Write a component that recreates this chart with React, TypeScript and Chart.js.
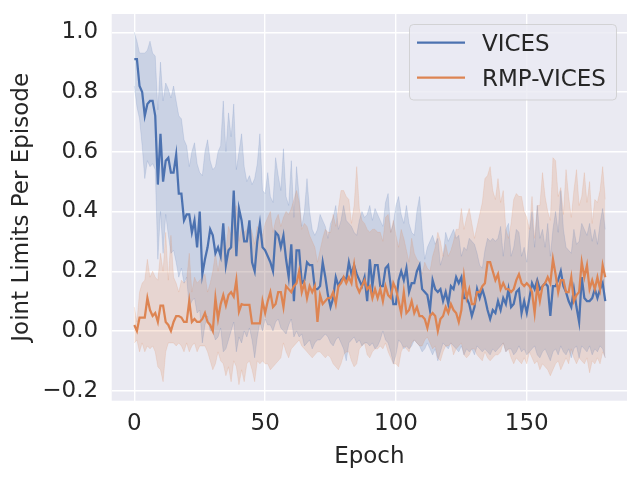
import React, { useEffect, useRef } from "react";
import { Chart, registerables } from "chart.js";

Chart.register(...registerables);

const epochs: number[] = Array.from({ length: 181 }, (_, i) => i);

const vicesMean: number[] = [
  0.91, 0.91, 0.82, 0.80, 0.72, 0.76, 0.77, 0.77, 0.72, 0.49,
  0.66, 0.50, 0.57, 0.58, 0.53, 0.53, 0.59, 0.46, 0.46, 0.37,
  0.39, 0.39, 0.33, 0.37, 0.28, 0.40, 0.19, 0.24, 0.28, 0.34,
  0.32, 0.26, 0.28, 0.25, 0.36, 0.22, 0.27, 0.28, 0.47, 0.25,
  0.41, 0.37, 0.30, 0.30, 0.37, 0.23, 0.20, 0.30, 0.36, 0.28,
  0.27, 0.25, 0.23, 0.20, 0.33, 0.32, 0.28, 0.32, 0.24, 0.18,
  0.29, 0.10, 0.27, 0.27, 0.16, 0.17, 0.23, 0.22, 0.22, 0.14,
  0.14, 0.15, 0.23, 0.18, 0.12, 0.08, 0.11, 0.18, 0.15, 0.17,
  0.18, 0.17, 0.23, 0.19, 0.22, 0.19, 0.17, 0.15, 0.18, 0.10,
  0.24, 0.15, 0.22, 0.22, 0.15, 0.15, 0.21, 0.22, 0.15, 0.09,
  0.09, 0.17, 0.20, 0.17, 0.21, 0.13, 0.16, 0.16, 0.20, 0.22,
  0.14, 0.13, 0.12, 0.07, 0.17, 0.14, 0.13, 0.14, 0.10, 0.13,
  0.09, 0.15, 0.14, 0.18, 0.16, 0.18, 0.11, 0.11, 0.09, 0.05,
  0.08, 0.14, 0.11, 0.14, 0.11, 0.07, 0.04, 0.07, 0.06, 0.10,
  0.07, 0.11, 0.09, 0.14, 0.08, 0.09, 0.13, 0.14, 0.06, 0.10,
  0.06, 0.11, 0.16, 0.14, 0.17, 0.14, 0.15, 0.16, 0.15, 0.05,
  0.15, 0.15, 0.17, 0.20, 0.15, 0.13, 0.10, 0.08, 0.14, 0.08,
  0.03, 0.18, 0.11, 0.10, 0.10, 0.11, 0.14, 0.11, 0.14, 0.16, 0.10,
];

const vicesUpper: number[] = [
  1.00, 0.97, 0.93, 0.93, 0.93, 0.94, 0.97, 0.93, 0.92, 0.74,
  0.90, 0.77, 0.83, 0.81, 0.78, 0.82, 0.77, 0.72, 0.71, 0.64,
  0.62, 0.55, 0.60, 0.63, 0.56, 0.53, 0.52, 0.60, 0.64, 0.57,
  0.54, 0.55, 0.60, 0.62, 0.77, 0.60, 0.73, 0.65, 0.76, 0.54,
  0.60, 0.66, 0.55, 0.50, 0.52, 0.49, 0.51, 0.56, 0.66, 0.47,
  0.46, 0.53, 0.45, 0.43, 0.58, 0.52, 0.47, 0.61, 0.45, 0.42,
  0.57, 0.38, 0.55, 0.45, 0.35, 0.40, 0.51, 0.40, 0.34, 0.32,
  0.34, 0.39, 0.37, 0.35, 0.31, 0.36, 0.38, 0.42, 0.34, 0.37,
  0.42, 0.37, 0.36, 0.35, 0.33, 0.32, 0.37, 0.40, 0.38, 0.39,
  0.42, 0.37, 0.41, 0.39, 0.37, 0.35, 0.43, 0.46, 0.33, 0.36,
  0.42, 0.45, 0.39, 0.36, 0.42, 0.36, 0.33, 0.32, 0.40, 0.45,
  0.34, 0.24, 0.28, 0.30, 0.32, 0.29, 0.31, 0.22, 0.25, 0.33,
  0.30, 0.32, 0.34, 0.31, 0.32, 0.25, 0.28, 0.27, 0.31, 0.30,
  0.29, 0.26, 0.22, 0.21, 0.27, 0.31, 0.30, 0.31, 0.30, 0.31,
  0.35, 0.25, 0.34, 0.36, 0.25, 0.28, 0.34, 0.33, 0.25, 0.28,
  0.23, 0.33, 0.40, 0.28, 0.42, 0.31, 0.34, 0.28, 0.36, 0.25,
  0.34, 0.40, 0.33, 0.47, 0.34, 0.28, 0.27, 0.26, 0.34, 0.29,
  0.30, 0.36, 0.34, 0.32, 0.36, 0.30, 0.34, 0.29, 0.36, 0.41, 0.34,
];

const vicesLower: number[] = [
  0.82, 0.75, 0.71, 0.62, 0.51, 0.57, 0.55, 0.56, 0.54, 0.24,
  0.40, 0.26, 0.39, 0.32, 0.26, 0.27, 0.23, 0.18, 0.21, 0.16,
  0.18, 0.08, 0.10, 0.11, 0.06, 0.07, -0.04, 0.02, 0.05, 0.00,
  0.00, -0.03, -0.02, 0.01, -0.07, -0.06, -0.03, 0.00, 0.03, -0.07,
  -0.02, -0.04, 0.00, -0.02, 0.01, -0.03, -0.09, -0.02, 0.03, 0.00,
  0.04, 0.02, 0.02, 0.00, 0.03, 0.04, 0.01, 0.00, -0.01, 0.02,
  0.04, -0.02, 0.00, -0.02, -0.01, -0.05, -0.04, -0.03, -0.06, -0.04,
  -0.03, -0.03, -0.02, -0.01, -0.02, -0.04, -0.05, -0.03, -0.02, -0.04,
  -0.06, -0.10, -0.04, -0.03, -0.02, -0.04, -0.03, -0.05, -0.04, -0.04,
  -0.05, -0.04, -0.06, -0.05, -0.03, 0.00, -0.03, -0.04, -0.07, -0.11,
  -0.08, -0.03, -0.04, -0.06, -0.05, -0.06, -0.05, -0.03, -0.04, -0.05,
  -0.07, -0.06, -0.04, -0.06, -0.08, -0.06, -0.10, -0.07, -0.04, -0.05,
  -0.06, -0.04, -0.05, -0.06, -0.07, -0.05, -0.08, -0.06, -0.07, -0.06,
  -0.08, -0.05, -0.06, -0.07, -0.06, -0.07, -0.08, -0.06, -0.07, -0.06,
  -0.05, -0.04, -0.07, -0.06, -0.06, -0.08, -0.07, -0.05, -0.07, -0.06,
  -0.08, -0.07, -0.06, -0.05, -0.08, -0.09, -0.07, -0.06, -0.08, -0.10,
  -0.07, -0.06, -0.08, -0.05, -0.07, -0.08, -0.06, -0.09, -0.06, -0.05,
  -0.09, -0.05, -0.06, -0.07, -0.05, -0.08, -0.06, -0.07, -0.05, -0.06, -0.09,
];

const rmpMean: number[] = [
  0.02, 0.00, 0.045, 0.045, 0.045, 0.11, 0.07, 0.05, 0.06, 0.03,
  0.085, 0.085, 0.03, 0.02, 0.00, 0.03, 0.05, 0.05, 0.045, 0.03,
  0.03, 0.10, 0.03, 0.04, 0.03, 0.03, 0.04, 0.06, 0.03, 0.02,
  0.00, 0.11, 0.04, 0.09, 0.12, 0.085, 0.12, 0.13, 0.115, 0.17,
  0.065, 0.09, 0.087, 0.087, 0.087, 0.025, 0.025, 0.025, 0.025, 0.10,
  0.06, 0.10, 0.13, 0.08, 0.09, 0.13, 0.13, 0.08, 0.15, 0.14,
  0.13, 0.15, 0.16, 0.20, 0.13, 0.16, 0.11, 0.15, 0.13, 0.15,
  0.03, 0.12, 0.09, 0.10, 0.11, 0.11, 0.13, 0.09, 0.15, 0.16,
  0.18, 0.16, 0.18, 0.16, 0.22, 0.15, 0.13, 0.15, 0.17, 0.14,
  0.15, 0.11, 0.14, 0.11, 0.14, 0.10, 0.15, 0.12, 0.11, 0.16,
  0.14, 0.10, 0.06, 0.13, 0.06, 0.07, 0.10, 0.06, 0.08, 0.05,
  0.05, 0.04, 0.01, 0.05, 0.06, 0.05, 0.00, 0.04, 0.05, 0.08,
  0.06, 0.09, 0.07, 0.06, 0.03, 0.07, 0.18, 0.11, 0.14, 0.09,
  0.09, 0.13, 0.13, 0.15, 0.16, 0.23, 0.23, 0.20, 0.17, 0.19,
  0.14, 0.16, 0.14, 0.14, 0.13, 0.14, 0.17, 0.19, 0.16, 0.15,
  0.16, 0.15, 0.13, 0.06, 0.15, 0.10, 0.15, 0.16, 0.18, 0.16,
  0.24, 0.19, 0.13, 0.17, 0.17, 0.13, 0.13, 0.18, 0.10, 0.12,
  0.13, 0.23, 0.18, 0.22, 0.14, 0.17, 0.14, 0.18, 0.14, 0.22, 0.18,
];

const rmpUpper: number[] = [
  0.08, 0.03, 0.13, 0.16, 0.17, 0.24, 0.18, 0.20, 0.18, 0.17,
  0.26, 0.20, 0.33, 0.17, 0.32, 0.18, 0.16, 0.13, 0.17, 0.16,
  0.17, 0.26, 0.13, 0.18, 0.16, 0.17, 0.18, 0.19, 0.13, 0.16,
  0.20, 0.26, 0.20, 0.26, 0.33, 0.27, 0.35, 0.32, 0.37, 0.42,
  0.30, 0.35, 0.33, 0.34, 0.36, 0.33, 0.29, 0.35, 0.33, 0.32,
  0.36, 0.38, 0.40, 0.33, 0.37, 0.39, 0.35, 0.38, 0.40, 0.39,
  0.41, 0.44, 0.47, 0.43, 0.34, 0.36, 0.35, 0.32, 0.30, 0.28,
  0.23, 0.27, 0.31, 0.34, 0.33, 0.33, 0.39, 0.35, 0.41, 0.47,
  0.47, 0.45, 0.44, 0.36, 0.42, 0.55, 0.41, 0.37, 0.36, 0.34,
  0.33, 0.34, 0.34, 0.33, 0.33, 0.30, 0.38, 0.39, 0.33, 0.37,
  0.32, 0.28, 0.34, 0.31, 0.27, 0.23, 0.31, 0.26, 0.24, 0.23,
  0.19, 0.23, 0.21, 0.20, 0.25, 0.28, 0.33, 0.30, 0.25, 0.29,
  0.25, 0.27, 0.30, 0.34, 0.34, 0.41, 0.34, 0.38, 0.41, 0.36,
  0.31, 0.35, 0.39, 0.43, 0.51, 0.52, 0.55, 0.47, 0.44, 0.51,
  0.43, 0.47, 0.34, 0.31, 0.36, 0.44, 0.46, 0.45, 0.45, 0.40,
  0.38, 0.34, 0.45, 0.31, 0.42, 0.42, 0.53, 0.45, 0.40, 0.37,
  0.58, 0.57, 0.45, 0.48, 0.39, 0.54, 0.45, 0.38, 0.47, 0.54,
  0.42, 0.45, 0.53, 0.43, 0.50, 0.36, 0.44, 0.43, 0.47, 0.55, 0.44,
];

const rmpLower: number[] = [
  -0.04, -0.03, -0.07, -0.04, -0.07, -0.05, -0.06, -0.05, -0.07, -0.12,
  -0.13, -0.17, -0.07, -0.04, -0.04, -0.04, -0.05, -0.04, -0.05, -0.07,
  -0.04, -0.07, -0.05, -0.04, -0.07, -0.05, -0.05, -0.05, -0.07, -0.10,
  -0.13, -0.11, -0.07, -0.10, -0.11, -0.15, -0.12, -0.17, -0.10, -0.12,
  -0.18, -0.13, -0.17, -0.11, -0.10, -0.13, -0.17, -0.10, -0.11, -0.10,
  -0.11, -0.11, -0.13, -0.12, -0.11, -0.10, -0.09, -0.04, -0.07, -0.09,
  -0.06, -0.05, -0.04, -0.03, -0.05, -0.06, -0.07, -0.08, -0.09, -0.08,
  -0.07, -0.07, -0.08, -0.09, -0.08, -0.09, -0.11, -0.12, -0.13, -0.11,
  -0.08, -0.07, -0.07, -0.10, -0.12, -0.11, -0.06, -0.05, -0.04, -0.08,
  -0.09, -0.07, -0.06, -0.06, -0.05, -0.06, -0.04, -0.07, -0.09, -0.11,
  -0.11, -0.12, -0.07, -0.05, -0.06, -0.07, -0.04, -0.03, -0.04, -0.05,
  -0.05, -0.03, -0.02, -0.04, -0.06, -0.05, -0.09, -0.10, -0.07, -0.05,
  -0.05, -0.04, -0.08, -0.06, -0.05, -0.04, -0.08, -0.09, -0.08, -0.06,
  -0.06, -0.08, -0.09, -0.10, -0.07, -0.09, -0.10, -0.09, -0.08, -0.08,
  -0.07, -0.04, -0.07, -0.06, -0.09, -0.11, -0.09, -0.10, -0.11, -0.09,
  -0.11, -0.07, -0.09, -0.11, -0.10, -0.13, -0.11, -0.12, -0.13, -0.15,
  -0.13, -0.11, -0.10, -0.13, -0.11, -0.09, -0.11, -0.06, -0.09, -0.11,
  -0.09, -0.10, -0.11, -0.09, -0.14, -0.10, -0.11, -0.09, -0.11, -0.07, -0.09,
];

const xTicks: number[] = [0, 50, 100, 150];
const yTicks: number[] = [-0.2, 0.0, 0.2, 0.4, 0.6, 0.8, 1.0];
const seriesNames: string[] = ["VICES", "RMP-VICES"];

const FONT = "'DejaVu Sans', sans-serif";
const TEXT = "#262626";
const BLUE = "rgb(76,114,176)";
const ORANGE = "rgb(221,132,82)";
const BLUE_BAND = "rgba(76,114,176,0.2)";
const ORANGE_BAND = "rgba(221,132,82,0.2)";

const pts = (ys: number[]) => epochs.map((x, i) => ({ x, y: ys[i] }));

const bgPlugin = {
  id: "axesBg",
  beforeDraw(chart: any) {
    const { ctx, chartArea } = chart;
    ctx.save();
    ctx.fillStyle = "#EAEAF2";
    ctx.fillRect(chartArea.left, chartArea.top, chartArea.right - chartArea.left, chartArea.bottom - chartArea.top);
    ctx.restore();
  },
};

const legendPlugin = {
  id: "mplLegend",
  afterDraw(chart: any) {
    const { ctx } = chart;
    const x0 = 409.5, y0 = 24.5, w = 207, h = 75.5, r = 4;
    ctx.save();
    ctx.beginPath();
    ctx.moveTo(x0 + r, y0);
    ctx.arcTo(x0 + w, y0, x0 + w, y0 + h, r);
    ctx.arcTo(x0 + w, y0 + h, x0, y0 + h, r);
    ctx.arcTo(x0, y0 + h, x0, y0, r);
    ctx.arcTo(x0, y0, x0 + w, y0, r);
    ctx.closePath();
    ctx.fillStyle = "rgba(234,234,242,0.8)";
    ctx.fill();
    ctx.strokeStyle = "rgba(204,204,204,0.8)";
    ctx.lineWidth = 1;
    ctx.stroke();
    const colors = [BLUE, ORANGE];
    const rows = [42.7, 77.7];
    ctx.font = `23px ${FONT}`;
    ctx.textBaseline = "alphabetic";
    ctx.textAlign = "left";
    seriesNames.forEach((name, i) => {
      ctx.beginPath();
      ctx.strokeStyle = colors[i];
      ctx.lineWidth = 2.25;
      ctx.moveTo(417, rows[i]);
      ctx.lineTo(465, rows[i]);
      ctx.stroke();
      ctx.fillStyle = TEXT;
      ctx.fillText(name, 482, rows[i] + 8.3);
    });
    ctx.restore();
  },
};

export default function App() {
  const ref = useRef<HTMLCanvasElement | null>(null);
  useEffect(() => {
    if (!ref.current) return;
    const band = (data: number[], color: string, fill: any, order: number) => ({
      data: pts(data),
      borderColor: color,
      borderWidth: 0.8,
      backgroundColor: color,
      pointRadius: 0,
      fill,
      order,
    });
    const chart = new Chart(ref.current, {
      type: "line",
      data: {
        datasets: [
          {
            label: seriesNames[1],
            data: pts(rmpMean),
            borderColor: ORANGE,
            borderWidth: 2.25,
            pointRadius: 0,
            fill: false,
            order: 0,
          },
          {
            label: seriesNames[0],
            data: pts(vicesMean),
            borderColor: BLUE,
            borderWidth: 2.25,
            pointRadius: 0,
            fill: false,
            order: 1,
          },
          band(rmpUpper, ORANGE_BAND, "+1", 2),
          band(rmpLower, ORANGE_BAND, false, 3),
          band(vicesUpper, BLUE_BAND, "+1", 4),
          band(vicesLower, BLUE_BAND, false, 5),
        ] as any,
      },
      options: {
        animation: false,
        responsive: false,
        events: [],
        layout: { padding: { left: 0, top: 14, right: 13, bottom: 0 } },
        plugins: {
          legend: { display: false },
          tooltip: { enabled: false },
          filler: { drawTime: "beforeDatasetsDraw" } as any,
        },
        scales: {
          x: {
            type: "linear",
            min: -8.64,
            max: 188.3,
            afterFit: (s: any) => {
              s.height = 79.3;
              s.paddingLeft = 0;
              s.paddingRight = 0;
            },
            afterBuildTicks: (s: any) => { s.ticks = xTicks.map((v) => ({ value: v })); },
            grid: { color: "#ffffff", lineWidth: 1.4, drawTicks: false },
            border: { display: false },
            ticks: {
              padding: 10,
              color: TEXT,
              font: { family: FONT, size: 23 },
              callback: (v: any) => String(v),
            },
            title: {
              display: true,
              text: "Epoch",
              color: TEXT,
              font: { family: FONT, size: 23 },
              padding: { top: 0, bottom: 9 },
            },
          },
          y: {
            type: "linear",
            min: -0.2335,
            max: 1.061,
            afterFit: (s: any) => {
              s.width = 111.7;
              s.paddingTop = 0;
              s.paddingBottom = 0;
            },
            afterBuildTicks: (s: any) => { s.ticks = yTicks.map((v) => ({ value: v })); },
            grid: { color: "#ffffff", lineWidth: 1.4, drawTicks: false },
            border: { display: false },
            ticks: {
              padding: 13.5,
              color: TEXT,
              font: { family: FONT, size: 23 },
              callback: (v: any) => (Number(v) < 0 ? "\u2212" : "") + Math.abs(Number(v)).toFixed(1),
            },
            title: {
              display: true,
              text: "Joint Limits Per Episode",
              color: TEXT,
              font: { family: FONT, size: 23 },
              padding: { top: 8, bottom: 0 },
            },
          },
        },
      },
      plugins: [bgPlugin, legendPlugin],
    });
    return () => chart.destroy();
  }, []);
  return (
    <div style={{ position: "absolute", left: 0, top: 0, width: 640, height: 480, background: "#ffffff" }}>
      <canvas ref={ref} width={640} height={480} style={{ width: 640, height: 480, display: "block" }} />
    </div>
  );
}
